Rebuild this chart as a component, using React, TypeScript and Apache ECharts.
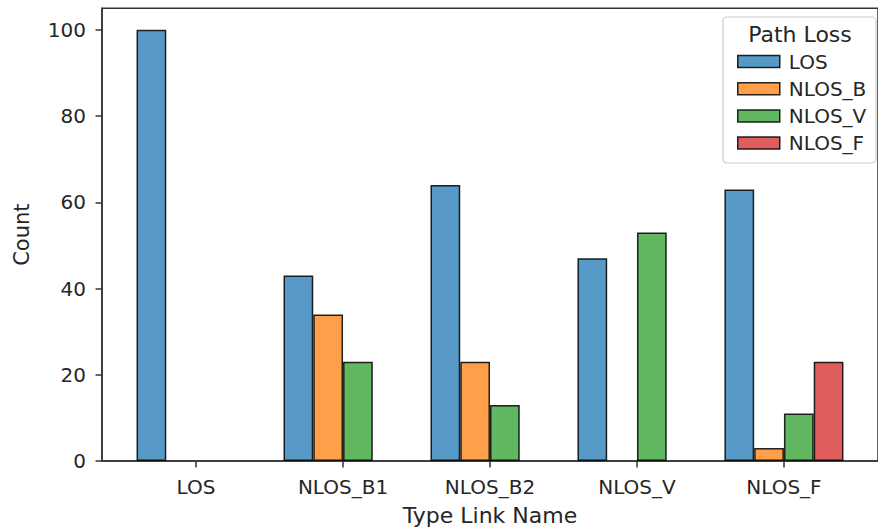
import React, { useEffect, useRef } from "react";
import * as echarts from "echarts";

const categories = ["LOS", "NLOS_B1", "NLOS_B2", "NLOS_V", "NLOS_F"];
const seriesNames = ["LOS", "NLOS_B", "NLOS_V", "NLOS_F"];
const losValues = [100, 43, 64, 47, 63];
const nlosBValues = [0, 34, 23, 0, 3];
const nlosVValues = [0, 23, 13, 53, 11];
const nlosFValues = [0, 0, 0, 0, 23];
const yTicks = [0, 20, 40, 60, 80, 100];
const colors = ["#5799c7", "#ff9f4a", "#61b861", "#e05d5e"];

const FONT = "DejaVu Sans";
const TEXT = "#262626";

export default function App() {
  const ref = useRef<HTMLDivElement>(null);
  useEffect(() => {
    if (!ref.current) return;
    const chart = echarts.init(ref.current, null, { renderer: "svg" });
    const all = [losValues, nlosBValues, nlosVValues, nlosFValues];
    const xIdx = categories.map((_, i) => i);
    chart.setOption({
      animation: false,
      backgroundColor: "#ffffff",
      grid: {
        left: 102,
        top: 8.3,
        bottom: 64.5,
        right: -10,
        show: true,
        borderColor: "#333333",
        borderWidth: 1.5,
        containLabel: false,
      },
      xAxis: {
        type: "value",
        min: -0.64,
        max: 4.64,
        name: "Type Link Name",
        nameLocation: "middle",
        nameGap: 43,
        nameTextStyle: { fontFamily: FONT, fontSize: 22, color: TEXT },
        axisLine: { show: true, onZero: false, lineStyle: { color: "#333333", width: 1.5 } },
        axisTick: {
          show: true,
          length: 6.5,
          customValues: xIdx,
          lineStyle: { color: "#333333", width: 1.5 },
        },
        axisLabel: {
          customValues: xIdx,
          margin: 16,
          fontFamily: FONT,
          fontSize: 20,
          color: TEXT,
          formatter: (v: number) => categories[Math.round(v)] ?? "",
        },
        splitLine: { show: false },
      },
      yAxis: {
        type: "value",
        min: 0,
        max: 105,
        name: "Count",
        nameLocation: "middle",
        nameGap: 70,
        nameTextStyle: { fontFamily: FONT, fontSize: 21, color: TEXT },
        axisLine: { show: true, onZero: false, lineStyle: { color: "#333333", width: 1.5 } },
        axisTick: {
          show: true,
          length: 6.5,
          customValues: yTicks,
          lineStyle: { color: "#333333", width: 1.5 },
        },
        axisLabel: {
          customValues: yTicks,
          margin: 16,
          fontFamily: FONT,
          fontSize: 20,
          color: TEXT,
        },
        splitLine: { show: false },
      },
      legend: {
        orient: "vertical",
        left: 732,
        top: 46.5,
        itemWidth: 42,
        itemHeight: 12,
        itemGap: 7.2,
        icon: "rect",
        data: seriesNames,
        textStyle: {
          fontFamily: FONT,
          fontSize: 20,
          color: TEXT,
          padding: [0, 0, 0, 4],
        },
        itemStyle: { borderColor: "rgba(0,0,0,0.85)", borderWidth: 1.5 },
        z: 5,
      },
      graphic: [
        {
          type: "rect",
          z: 4,
          shape: { x: 723, y: 17, width: 153, height: 146, r: 4 },
          style: { fill: "rgba(255,255,255,0.8)", stroke: "#cccccc", lineWidth: 1.2 },
        },
        {
          type: "text",
          z: 5,
          x: 800,
          y: 34,
          style: {
            text: "Path Loss",
            fontFamily: FONT,
            fontSize: 22,
            fill: TEXT,
            align: "center",
            verticalAlign: "middle",
          },
        },
      ],
      series: seriesNames.map((name, s) => ({
        name,
        type: "bar",
        barGap: "0%",
        barCategoryGap: "19%",
        data: all[s].map((v, i) => [i, v === 0 ? "-" : v]),
        itemStyle: {
          color: colors[s],
          borderColor: "rgba(0,0,0,0.85)",
          borderWidth: 1.5,
        },
        emphasis: { disabled: true },
      })),
    });
    return () => chart.dispose();
  }, []);
  return (
    <div
      ref={ref}
      style={{ position: "absolute", left: 0, top: 0, width: 878, height: 531 }}
    />
  );
}
